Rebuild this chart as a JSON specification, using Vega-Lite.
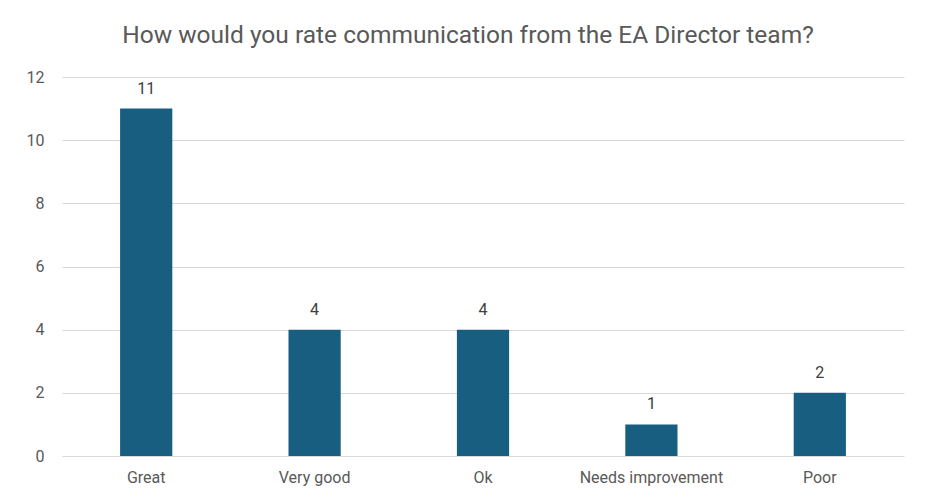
{
  "$schema": "https://vega.github.io/schema/vega-lite/v6.json",
  "autosize": {"type": "none"},
  "width": 842,
  "height": 379,
  "padding": {"left": 62, "top": 77, "right": 33, "bottom": 42},
  "background": "white",
  "title": {
    "text": "How would you rate communication from the EA Director team?",
    "font": "Roboto",
    "fontSize": 24.5,
    "fontWeight": "normal",
    "color": "#595959",
    "anchor": "middle",
    "frame": "group",
    "dx": -15,
    "offset": 21
  },
  "data": {
    "values": [
      {"rating": "Great", "count": 11},
      {"rating": "Very good", "count": 4},
      {"rating": "Ok", "count": 4},
      {"rating": "Needs improvement", "count": 1},
      {"rating": "Poor", "count": 2}
    ]
  },
  "config": {"view": {"stroke": null}},
  "encoding": {
    "x": {
      "field": "rating",
      "type": "nominal",
      "sort": null,
      "scale": {"paddingInner": 0.69, "paddingOuter": 0.345},
      "axis": {
        "title": null,
        "labelAngle": 0,
        "domain": false,
        "ticks": false,
        "labelFont": "Roboto",
        "labelFontSize": 16,
        "labelColor": "#595959",
        "labelPadding": 13
      }
    },
    "y": {
      "field": "count",
      "type": "quantitative",
      "scale": {"domain": [0, 12]},
      "axis": {
        "title": null,
        "values": [0, 2, 4, 6, 8, 10, 12],
        "domain": false,
        "ticks": false,
        "grid": true,
        "gridColor": "#d9d9d9",
        "gridWidth": 1,
        "labelFont": "Roboto",
        "labelFontSize": 16,
        "labelColor": "#595959",
        "labelPadding": 18
      }
    }
  },
  "layer": [
    {"mark": {"type": "bar", "color": "#175e80"}},
    {
      "mark": {"type": "text", "dy": -20, "font": "Roboto", "fontSize": 16, "color": "#404040"},
      "encoding": {"text": {"field": "count", "type": "quantitative"}}
    }
  ]
}
